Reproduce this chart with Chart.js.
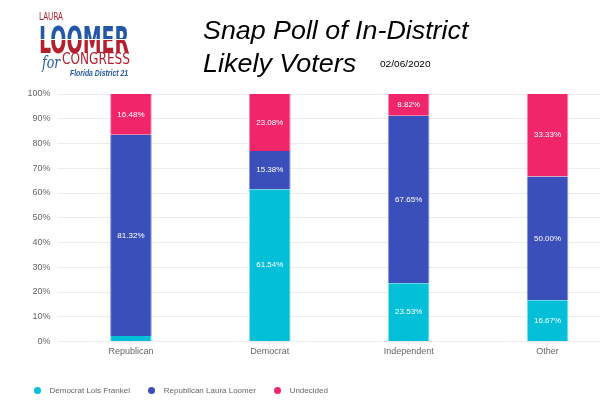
<!DOCTYPE html>
<html><head><meta charset="utf-8">
<script src="https://cdn.jsdelivr.net/npm/chart.js@4/dist/chart.umd.min.js"></script>
<style>
html,body{margin:0;padding:0;width:600px;height:419px;overflow:hidden;background:#fff;}
#wrap{position:absolute;left:0;top:0;width:625px;height:419px;}
.t{position:absolute;white-space:nowrap;transform-origin:0 0;line-height:1;}
.logo{font-family:"DejaVu Sans Condensed","DejaVu Sans",sans-serif;}
#legend{position:absolute;left:33.5px;top:386px;display:flex;align-items:center;font:8px "Liberation Sans",Arial,sans-serif;color:#666;}
#legend .it{display:flex;align-items:center;margin-right:17.8px;}
#legend .dot{width:7px;height:7px;border-radius:50%;margin-right:9px;}
</style></head><body>
<div id="wrap"><canvas id="c" width="625" height="419"></canvas></div>

<div class="t logo" id="laura" style="left:39.3px;top:10.5px;font-size:11px;color:#b5202e;" data-w="24">LAURA</div>
<div class="t logo" id="loomer" style="left:39.3px;top:20.6px;font-size:38px;font-weight:bold;color:transparent;background:linear-gradient(to bottom,#2458a6 0%,#2458a6 48%,#fff 48%,#fff 50.5%,#b5202e 50.5%,#b5202e 100%);-webkit-background-clip:text;background-clip:text;" data-w="90">LOOMER</div>
<div class="t" id="for" style="left:41.7px;top:55px;font-size:16px;font-family:'DejaVu Serif',serif;font-style:italic;color:#2458a6;" data-w="18">for</div>
<div class="t logo" id="congress" style="left:61.7px;top:51.4px;font-size:16px;color:#b5202e;" data-w="68.3">CONGRESS</div>
<div class="t" id="district" style="left:70px;top:67.7px;font-size:9.8px;font-family:'Liberation Sans',Arial,sans-serif;font-weight:bold;font-style:italic;color:#2458a6;" data-w="58.3">Florida District 21</div>

<div class="t" id="title1" style="left:203px;top:17.5px;font-size:25px;font-family:'Liberation Sans',Arial,sans-serif;font-style:italic;color:#000;" data-w="265">Snap Poll of In-District</div>
<div class="t" id="title2" style="left:203px;top:50.5px;font-size:25px;font-family:'Liberation Sans',Arial,sans-serif;font-style:italic;color:#000;" data-w="153">Likely Voters</div>
<div class="t" id="date" style="left:380px;top:58.8px;font-size:9.5px;font-family:'Liberation Sans',Arial,sans-serif;color:#000;" data-w="51">02/06/2020</div>

<div id="legend"></div>

<script>
// ---- Data ----
const categories = ['Republican', 'Democrat', 'Independent', 'Other'];
const seriesNames = ['Democrat Lois Frankel', 'Republican Laura Loomer', 'Undecided'];
const frankel   = [2.20, 61.54, 23.53, 16.67];
const loomer    = [81.32, 15.38, 67.65, 50.00];
const undecided = [16.48, 23.08, 8.82, 33.33];
const yTickStep = 10;

// ---- Styles ----
const fills   = ['#03bfd8', '#3b4fbb', '#f1266a'];
const borders = ['#8fe0ea', '#8b96dc', '#f78db0'];

document.querySelectorAll('.t[data-w]').forEach(el => {
  const w = parseFloat(el.dataset.w);
  el.style.transform = 'scaleX(' + (w / el.offsetWidth) + ')';
});

const legend = document.getElementById('legend');
seriesNames.forEach((n, i) => {
  const it = document.createElement('div'); it.className = 'it';
  const d = document.createElement('span'); d.className = 'dot'; d.style.background = fills[i];
  const s = document.createElement('span'); s.textContent = n;
  it.appendChild(d); it.appendChild(s); legend.appendChild(it);
});

const segLabels = {
  id: 'segLabels',
  afterDatasetsDraw(chart) {
    const ctx = chart.ctx;
    ctx.save();
    ctx.font = '8px "Liberation Sans", Arial, sans-serif';
    ctx.fillStyle = '#fff';
    ctx.textAlign = 'center';
    ctx.textBaseline = 'middle';
    chart.data.datasets.forEach((ds, i) => {
      const meta = chart.getDatasetMeta(i);
      meta.data.forEach((bar, j) => {
        const v = ds.data[j];
        if (v < 5) return;
        const p = bar.getProps(['x', 'y', 'base'], true);
        ctx.fillText(v.toFixed(2) + '%', p.x, (p.y + p.base) / 2);
      });
    });
    ctx.restore();
  }
};

const seriesData = [frankel, loomer, undecided];
const pad = {left: 0, right: 8, top: 90, bottom: 60};
const chart = new Chart(document.getElementById('c'), {
  type: 'bar',
  data: {
    labels: categories,
    datasets: seriesNames.map((n, i) => ({
      label: n,
      data: seriesData[i],
      backgroundColor: fills[i],
      borderColor: borders[i],
      borderWidth: {left: 1, right: 1, top: 0, bottom: 0},
      borderSkipped: false,
      categoryPercentage: 1,
      barPercentage: 0.3
    }))
  },
  options: {
    responsive: false,
    devicePixelRatio: 1,
    animation: false,
    layout: {padding: pad},
    plugins: {legend: {display: false}, tooltip: {enabled: false}},
    scales: {
      x: {
        stacked: true,
        border: {display: false},
        grid: {display: true, drawOnChartArea: false, drawTicks: true, tickLength: 4, offset: false, color: '#ececec'},
        ticks: {color: '#666', font: {family: '"Liberation Sans", Arial, sans-serif', size: 9}, padding: 1}
      },
      y: {
        stacked: true,
        min: 0, max: 100,
        border: {display: false},
        grid: {color: '#ececec', tickLength: 4},
        ticks: {stepSize: yTickStep, color: '#666', padding: 7,
          font: {family: '"Liberation Sans", Arial, sans-serif', size: 9},
          callback: v => v + '%'}
      }
    }
  },
  plugins: [segLabels]
});

// adjust padding so chart area lands where the reference has it
const target = {left: 61.5, right: 617, top: 94, bottom: 341.5};
const ca = chart.chartArea;
pad.left += target.left - ca.left;
pad.top += target.top - ca.top;
pad.right += ca.right - target.right;
pad.bottom += ca.bottom - target.bottom;
chart.options.layout.padding = pad;
chart.update();
</script>
</body></html>
